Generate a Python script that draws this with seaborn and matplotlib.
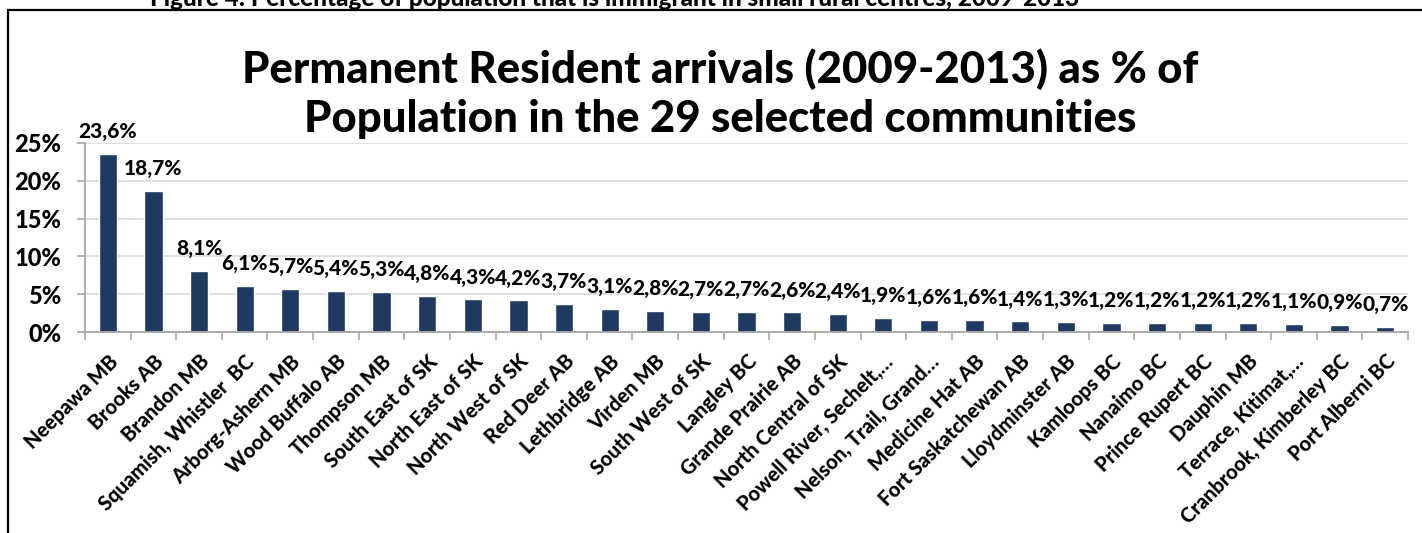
import matplotlib
matplotlib.use("Agg")
import matplotlib.pyplot as plt
import seaborn as sns
import pandas as pd
from matplotlib.patches import Rectangle
from matplotlib.ticker import FixedLocator

communities = [
    "Neepawa MB", "Brooks AB", "Brandon MB", "Squamish, Whistler  BC", "Arborg-Ashern MB",
    "Wood Buffalo AB", "Thompson MB", "South East of SK", "North East of SK", "North West of SK",
    "Red Deer AB", "Lethbridge AB", "Virden MB", "South West of SK", "Langley BC",
    "Grande Prairie AB", "North Central of SK", "Powell River, Sechelt,…", "Nelson, Trail, Grand…",
    "Medicine Hat AB", "Fort Saskatchewan AB", "Lloydminster AB", "Kamloops BC", "Nanaimo BC",
    "Prince Rupert BC", "Dauphin MB", "Terrace, Kitimat,…", "Cranbrook, Kimberley BC", "Port Alberni BC",
]
pct_values = [23.6, 18.7, 8.1, 6.1, 5.7, 5.4, 5.3, 4.8, 4.3, 4.2, 3.7, 3.1, 2.8, 2.7, 2.7,
              2.6, 2.4, 1.9, 1.6, 1.6, 1.4, 1.3, 1.2, 1.2, 1.2, 1.2, 1.1, 0.9, 0.7]
y_ticks = [0, 5, 10, 15, 20, 25]

title = "Permanent Resident arrivals (2009-2013) as % of\nPopulation in the 29 selected communities"
caption = "Figure 4: Percentage of population that is immigrant in small rural centres, 2009-2013"

sns.set_theme(style="white")
plt.rcParams['font.family'] = ['Lato', 'DejaVu Sans']
plt.rcParams['text.color'] = 'black'
W = 900

df = pd.DataFrame({"community": communities, "pct": pct_values})

fig = plt.figure(figsize=(14.22, 5.33), dpi=100)
ax = fig.add_axes([85/1422, 1-332/533, (1408-85)/1422, (332-143)/533])

bar_color = "#1F3A60"
sns.barplot(data=df, x="community", y="pct", color=bar_color, width=0.4,
            saturation=1, ax=ax, order=communities)

ax.set_ylim(0, 25)
ax.set_xlim(-0.5, len(communities) - 0.5)
ax.set_yticks(y_ticks)
ax.set_yticklabels([f"{t}%" for t in y_ticks], fontsize=17, fontweight=W)
ax.yaxis.grid(True, color="#D9D9D9", linewidth=1.2)
ax.set_axisbelow(True)
ax.set_xlabel("")
ax.set_ylabel("")

for s in ["top", "right"]:
    ax.spines[s].set_visible(False)
for s in ["left", "bottom"]:
    ax.spines[s].set_color("#A6A6A6")
    ax.spines[s].set_linewidth(1.3)

ax.tick_params(axis='y', which='major', length=6, color="#A6A6A6", width=1.2, pad=11,
               left=True, labelcolor='black')
ax.tick_params(axis='x', which='major', length=0, pad=14, labelcolor='black')
ax.xaxis.set_minor_locator(FixedLocator([i - 0.5 for i in range(len(communities) + 1)]))
ax.tick_params(axis='x', which='minor', length=6, color="#A6A6A6", width=1.2, bottom=True)

ax.set_xticks(range(len(communities)))
ax.set_xticklabels(communities, rotation=45, ha='right', rotation_mode='anchor',
                   fontsize=14.5, fontweight=W)

for i, v in enumerate(pct_values):
    ax.annotate(f"{v:.1f}%".replace(".", ","), xy=(i, v), xytext=(0, 16),
                textcoords="offset points", ha='center', va='center',
                fontsize=15, fontweight=W, color='black', annotation_clip=False)

fig.text(720/1422, 1-94/533, title, ha='center', va='center', fontsize=31.5,
         fontweight=W, linespacing=1.27, color='black')
fig.text(615/1422, 1-6/533, caption, ha='center', va='baseline', fontsize=17.5,
         fontweight=W, color='black')

fig.add_artist(Rectangle((8/1422, -0.1), 1.2, 1 - 10/533 + 0.1, transform=fig.transFigure,
                         fill=False, edgecolor="black", linewidth=1.6))

fig.savefig("out.png", dpi=100)
